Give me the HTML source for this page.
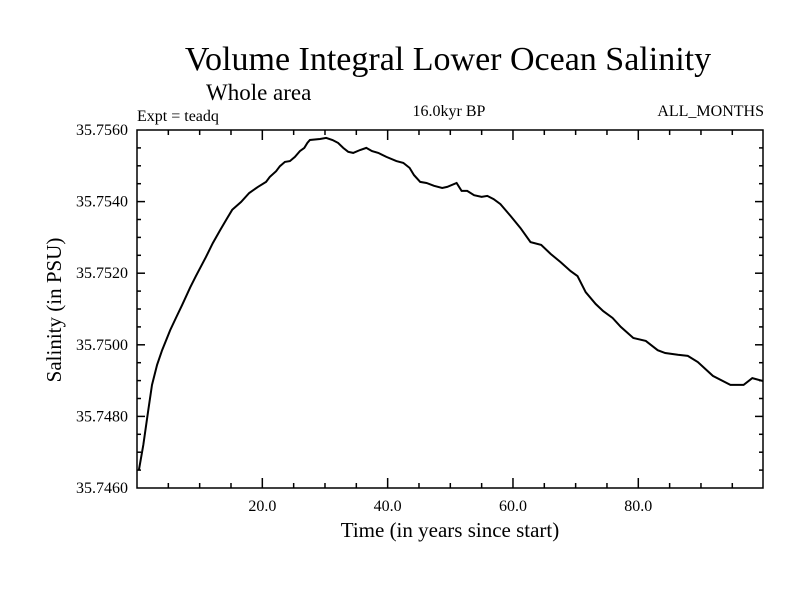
<!DOCTYPE html>
<html><head><meta charset="utf-8"><style>
body{margin:0;background:#fff}
svg{display:block;font-family:"Liberation Serif",serif}
</style></head><body>
<svg id="chart" width="800" height="600">
<text x="448" y="70" font-size="34" text-anchor="middle">Volume Integral Lower Ocean Salinity</text>
<text x="206" y="100" font-size="23">Whole area</text>
<text x="137" y="121" font-size="16">Expt = teadq</text>
<text x="449" y="116" font-size="16" text-anchor="middle">16.0kyr BP</text>
<text x="764" y="116" font-size="16" text-anchor="end">ALL_MONTHS</text>
<text x="450" y="537" font-size="21" text-anchor="middle">Time (in years since start)</text>
<text transform="translate(61,310) rotate(-90)" font-size="21" text-anchor="middle">Salinity (in PSU)</text>
<g id="axes"></g>
<path id="line" fill="none" stroke="#000" stroke-width="2"></path>
</svg>
<script>
const years=[0.3,1.0,1.8,2.4,3.2,4.0,5.3,6.2,7.2,8.5,9.4,11.0,12.1,13.3,14.4,15.2,16.6,17.9,19.3,20.6,21.2,22.2,22.8,23.6,24.4,25.2,26.0,26.7,27.2,27.6,29.2,30.2,31.2,32.1,32.9,33.7,34.5,35.6,36.6,37.5,38.5,39.8,41.4,42.5,43.5,44.2,45.2,46.2,47.4,48.7,49.5,51.0,51.8,52.7,53.8,55.0,55.9,56.9,58.0,59.6,61.2,62.8,64.5,66.0,67.6,69.2,70.3,71.6,73.2,74.4,75.9,77.2,79.2,81.2,83.1,84.3,86.3,87.9,89.5,91.9,94.7,96.8,98.2,99.9];
const salinity=[35.74650,35.74720,35.74818,35.74888,35.74944,35.74985,35.75041,35.75075,35.75111,35.75161,35.75192,35.75245,35.75284,35.75321,35.75354,35.75377,35.75399,35.75424,35.75441,35.75455,35.75469,35.75485,35.75499,35.75511,35.75513,35.75525,35.75541,35.75550,35.75564,35.75572,35.75575,35.75578,35.75572,35.75564,35.75550,35.75539,35.75536,35.75544,35.75550,35.75541,35.75536,35.75525,35.75513,35.75508,35.75494,35.75474,35.75455,35.75452,35.75444,35.75438,35.75441,35.75452,35.75430,35.75430,35.75418,35.75413,35.75416,35.75407,35.75393,35.75360,35.75326,35.75287,35.75279,35.75254,35.75231,35.75206,35.75192,35.75147,35.75114,35.75094,35.75075,35.75050,35.75019,35.75011,35.74985,35.74977,35.74972,35.74969,35.74952,35.74913,35.74888,35.74888,35.74907,35.74899];
const xTickLabels=["20.0","40.0","60.0","80.0"];
const xTickValues=[20,40,60,80];
const yTickLabels=["35.7560","35.7540","35.7520","35.7500","35.7480","35.7460"];
const yTickValues=[35.756,35.754,35.752,35.750,35.748,35.746];

const L=137,R=763,T=130,B=488,X0=0,X1=99.9,Y0=35.746,Y1=35.756;
const sx=v=>L+(v-X0)/(X1-X0)*(R-L);
const sy=v=>B-(v-Y0)/(Y1-Y0)*(B-T);
const NS="http://www.w3.org/2000/svg";
const g=document.getElementById('axes');
function ln(x1,y1,x2,y2,name){const e=document.createElementNS(NS,'line');e.setAttribute('x1',x1);e.setAttribute('y1',y1);e.setAttribute('x2',x2);e.setAttribute('y2',y2);e.setAttribute('stroke','#000');e.setAttribute('stroke-width','1.5');


g.appendChild(e);}
function tx(x,y,s,anchor,name){const e=document.createElementNS(NS,'text');e.setAttribute('x',x);e.setAttribute('y',y);e.setAttribute('font-size','16');e.setAttribute('text-anchor',anchor);e.textContent=s;


g.appendChild(e);}
const fr=document.createElementNS(NS,'rect');
fr.setAttribute('x',L);fr.setAttribute('y',T);fr.setAttribute('width',R-L);fr.setAttribute('height',B-T);fr.setAttribute('fill','none');fr.setAttribute('stroke','#000');fr.setAttribute('stroke-width','1.5');


g.appendChild(fr);
for(let v=5;v<X1;v+=5){const x=sx(v);const major=v%20===0;const len=major?10:5;ln(x,B,x,B-len,'x-tick');ln(x,T,x,T+len,'x-tick-top');}
for(let i=1;i<20;i++){const v=Y0+i*0.0005;const y=sy(v);const major=i%4===0;const len=major?8:4;ln(L,y,L+len,y,'y-tick');ln(R,y,R-len,y,'y-tick-right');}
xTickValues.forEach((v,i)=>tx(sx(v),511,xTickLabels[i],'middle','x-tick-label'));
yTickValues.forEach((v,i)=>tx(128,sy(v)+5,yTickLabels[i],'end','y-tick-label'));
document.getElementById('line').setAttribute('d',years.map((v,i)=>(i?'L':'M')+sx(v).toFixed(1)+','+sy(salinity[i]).toFixed(1)).join(''));
</script>
</body></html>
